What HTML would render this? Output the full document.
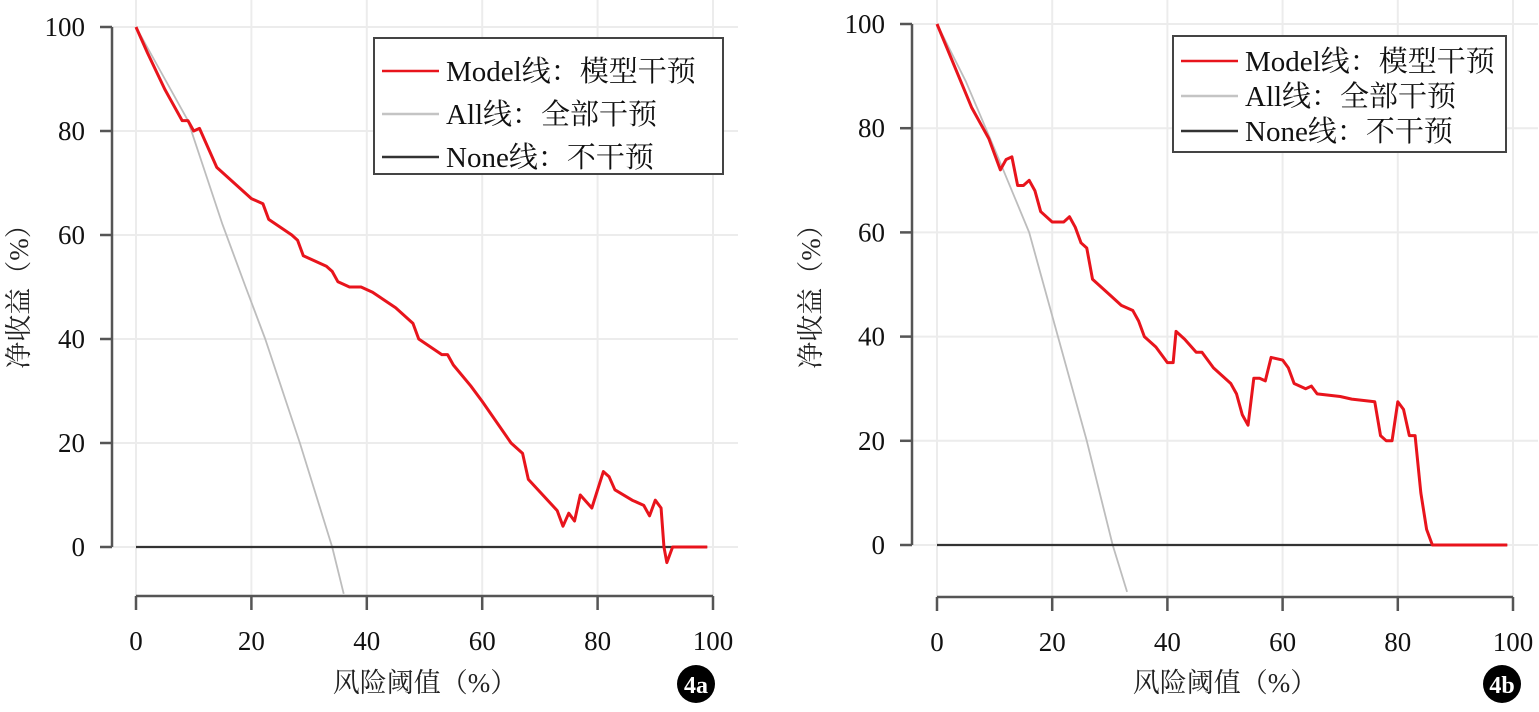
<!DOCTYPE html>
<html><head><meta charset="utf-8"><style>
body{margin:0;background:#fff;}
svg{display:block;}
text{font-family:"Liberation Serif","Noto Serif CJK SC",serif;}
</style></head><body>
<svg id="s" width="1539" height="712" xmlns="http://www.w3.org/2000/svg"></svg>
<script>
const NS="http://www.w3.org/2000/svg";const s=document.getElementById('s');
function el(t,a,txt){const e=document.createElementNS(NS,t);for(const k in a)e.setAttribute(k,a[k]);if(txt!=null)e.textContent=txt;s.appendChild(e);return e;}
function panel(P){
 const X=v=>P.x0+v*(P.x1-P.x0)/100, Y=v=>P.y0+(100-v)*(P.yz-P.y0)/100;
 for(let v=0;v<=100;v+=20){el('line',{x1:X(v),x2:X(v),y1:0,y2:P.ax,stroke:'#ececec','stroke-width':2});}
 for(let v=0;v<=100;v+=20){el('line',{x1:P.yl,x2:P.x1+25,y1:Y(v),y2:Y(v),stroke:'#ececec','stroke-width':2});}
 el('line',{x1:P.yl,x2:P.yl,y1:Y(100),y2:Y(0),stroke:'#555','stroke-width':2.5});
 for(let v=0;v<=100;v+=20){el('line',{x1:P.yl-12,x2:P.yl,y1:Y(v),y2:Y(v),stroke:'#555','stroke-width':2.5});
  el('text',{x:P.yl-27,y:Y(v)+9,'text-anchor':'end','font-size':27,fill:'#111'},String(v));}
 el('line',{x1:X(0),x2:X(100),y1:P.ax,y2:P.ax,stroke:'#555','stroke-width':2.5});
 for(let v=0;v<=100;v+=20){el('line',{x1:X(v),x2:X(v),y1:P.ax,y2:P.ax+14,stroke:'#555','stroke-width':2.5});
  el('text',{x:X(v),y:P.ax+54,'text-anchor':'middle','font-size':27,fill:'#111'},String(v));}
 const pl=(pts,c,w)=>el('polyline',{points:pts.map(p=>X(p[0])+','+Y(p[1])).join(' '),fill:'none',stroke:c,'stroke-width':w,'stroke-linejoin':'round'});
 pl(P.all,'#bdbdbd',1.8);
 pl([[0,0],[99,0]],'#333',2.2);
 pl(P.model,'#e8141c',3);
 const L=P.leg;
 el('rect',{x:L.x,y:L.y,width:L.w,height:L.h,fill:'#fff',stroke:'#444','stroke-width':2});
 const items=[['Model线：','模型干预','#e8141c'],['All线：','全部干预','#c4c4c4'],['None线：','不干预','#333']];
 items.forEach((it,i)=>{const yy=L.y+L.r0+i*L.dy;
  el('line',{x1:L.x+8,x2:L.x+65,y1:yy,y2:yy,stroke:it[2],'stroke-width':2.5});
  el('text',{x:L.x+72,y:yy+10,'font-size':29,fill:'#111'},it[0]+it[1]);});
 el('text',{x:0,y:0,'font-size':27,fill:'#222','text-anchor':'middle',transform:`translate(${P.tyx},${P.tyy}) rotate(-90)`},'净收益（%）');
 el('text',{x:P.txx,y:692,'font-size':27,fill:'#222','text-anchor':'middle'},'风险阈值（%）');
 el('circle',{cx:P.bx,cy:684,r:19,fill:'#000'});
 el('text',{x:P.bx,y:693,'font-size':24,'font-weight':'bold',fill:'#fff','text-anchor':'middle','font-family':'Liberation Sans, sans-serif'},P.b);
}
panel({x0:136,x1:713,y0:27,yz:547,ax:596,yl:112,tyx:28,tyy:290,txx:425,bx:696,b:'4a',
 leg:{x:374,y:38,w:349,h:136,r0:33,dy:43},
 all:[[0,100],[5,90],[9,82],[15,62],[19,50],[22.4,40],[28.4,20],[34,0],[36,-9]],
 model:[[0,100],[2,95],[5,88],[6,86],[8,82],[9,82],[10,80],[11,80.5],[12,78],[14,73],[17,70],[20,67],[22,66],[23,63],[27,60],[28,59],[29,56],[33,54],[34,53],[35,51],[37,50],[39,50],[41,49],[45,46],[48,43],[49,40],[53,37],[54,37],[55,35],[58,31],[60,28],[65,20],[67,18],[68,13],[73,7],[74,4],[75,6.5],[76,5],[77,10],[79,7.5],[81,14.5],[82,13.5],[83,11],[86,9],[88,8],[89,6],[90,9],[91,7.5],[91.5,0],[92,-3],[93,0],[99,0]]});
panel({x0:937,x1:1513,y0:24,yz:545,ax:597,yl:912,tyx:820,tyy:290,txx:1225,bx:1502,b:'4b',
 leg:{x:1173,y:36,w:333,h:116,r0:25,dy:35},
 all:[[0,100],[5,89],[10,76],[16,60],[21,40],[26,20],[30.5,0],[33,-9]],
 model:[[0,100],[3,92],[6,84],[9,78],[10,75],[11,72],[12,74],[13,74.5],[14,69],[15,69],[16,70],[17,68],[18,64],[20,62],[22,62],[23,63],[24,61],[25,58],[26,57],[27,51],[30,48],[32,46],[34,45],[35,43],[36,40],[38,38],[40,35],[41,35],[41.5,41],[43,39.5],[45,37],[46,37],[48,34],[51,31],[52,29],[53,25],[54,23],[55,32],[56,32],[57,31.5],[58,36],[60,35.5],[61,34],[62,31],[64,30],[65,30.5],[66,29],[70,28.5],[72,28],[76,27.5],[77,21],[78,20],[79,20],[80,27.5],[81,26],[82,21],[83,21],[84,10],[85,3],[86,0],[99,0]]});
</script>
</body></html>
